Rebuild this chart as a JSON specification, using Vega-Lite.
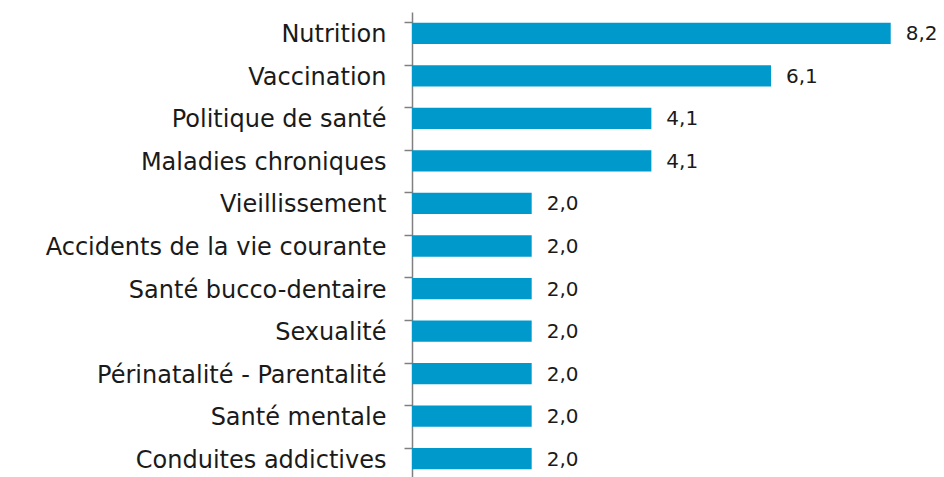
{
  "$schema": "https://vega.github.io/schema/vega-lite/v6.json",
  "autosize": "none",
  "width": 528,
  "height": 468,
  "padding": {"left": 412, "top": 12, "right": 4, "bottom": 0},
  "background": "white",
  "config": {
    "view": {"stroke": null},
    "font": "DejaVu Sans",
    "locale": {"number": {"decimal": ",", "thousands": " ", "grouping": [3], "currency": ["", " €"]}}
  },
  "data": {
    "values": [
      {"theme": "Nutrition", "pct": 8.16},
      {"theme": "Vaccination", "pct": 6.12},
      {"theme": "Politique de santé", "pct": 4.08},
      {"theme": "Maladies chroniques", "pct": 4.08},
      {"theme": "Vieillissement", "pct": 2.04},
      {"theme": "Accidents de la vie courante", "pct": 2.04},
      {"theme": "Santé bucco-dentaire", "pct": 2.04},
      {"theme": "Sexualité", "pct": 2.04},
      {"theme": "Périnatalité - Parentalité", "pct": 2.04},
      {"theme": "Santé mentale", "pct": 2.04},
      {"theme": "Conduites addictives", "pct": 2.04}
    ]
  },
  "encoding": {
    "y": {
      "field": "theme",
      "type": "nominal",
      "sort": null,
      "scale": {"paddingInner": 0.5, "paddingOuter": 0.25},
      "axis": {
        "title": null,
        "bandPosition": 0,
        "domainColor": "#808080",
        "domainWidth": 1.5,
        "tickColor": "#808080",
        "tickWidth": 1.5,
        "tickSize": 8,
        "labelFont": "DejaVu Sans",
        "labelFontSize": 24,
        "labelColor": "#1a1a1a",
        "labelPadding": 18,
        "labelOffset": 2,
        "labelLimit": 500
      }
    },
    "x": {
      "field": "pct",
      "type": "quantitative",
      "scale": {"domain": [0, 9], "nice": false},
      "axis": null
    }
  },
  "layer": [
    {"mark": {"type": "bar", "color": "#0099CC"}},
    {
      "mark": {"type": "text", "align": "left", "baseline": "middle", "dx": 15, "dy": 1, "fontSize": 20, "color": "#1a1a1a"},
      "encoding": {"text": {"field": "pct", "type": "quantitative", "format": ".1f"}}
    }
  ]
}
